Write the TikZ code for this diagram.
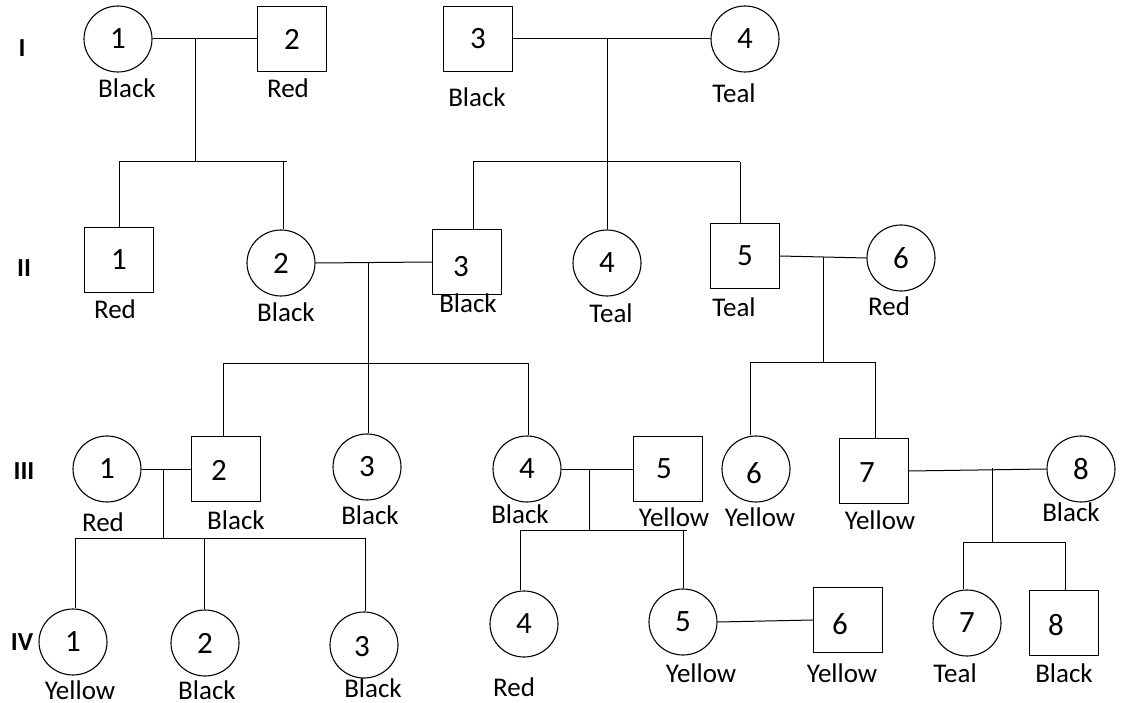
\documentclass[tikz,border=0pt]{standalone}
\usepackage{fontspec}
\setmainfont{Carlito}
\usetikzlibrary{shapes.geometric}
\begin{document}
\begin{tikzpicture}[x=1pt,y=-1pt,
  line width=1pt,
  fem/.style={ellipse, draw, line width=1.1pt, minimum width=68pt, minimum height=66pt, inner sep=0pt, font=\fontsize{31}{31}\selectfont},
  mal/.style={rectangle, draw, line width=1.1pt, minimum width=69pt, minimum height=65pt, inner sep=0pt, font=\fontsize{31}{31}\selectfont},
  num/.style={inner sep=0pt, font=\fontsize{31}{31}\selectfont},
  lab/.style={inner sep=0pt, font=\fontsize{27}{27}\selectfont},
  gen/.style={inner sep=0pt, font=\bfseries\fontsize{26}{26}\selectfont}]
\useasboundingbox[fill=white] (0,0) rectangle (1127,703);

% generation labels
\node[gen] (gI) at (22,48) {I};
\node[gen] (gII) at (24,268) {II};
\node[gen] (gIII) at (24,471) {III};
\node[gen] (gIV) at (22,642) {IV};

% Generation I
\node[fem] (I1) at (118,39) {1};
\node[mal] (I2) at (292,39) {2};
\node[mal] (I3) at (478,39) {3};
\node[fem] (I4) at (745,39) {4};
\node[lab] (lI1) at (127,88) {Black};
\node[lab] (lI2) at (288,88) {Red};
\node[lab] (lI3) at (477,97) {Black};
\node[lab] (lI4) at (734,93) {Teal};

% Generation II
\node[mal] (II1) at (119,260) {1};
\node[fem] (II2) at (281,263) {2};
\node[mal] (II3) at (467,262) {};
\node[num] (nII3) at (461,267) {3};
\node[fem] (II4) at (607,263) {4};
\node[mal] (II5) at (745,256) {5};
\node[fem] (II6) at (901,258) {6};
\node[lab] (lII1) at (115,309) {Red};
\node[lab] (lII2) at (286,312) {Black};
\node[lab] (lII3) at (468,303) {Black};
\node[lab] (lII4) at (611,313) {Teal};
\node[lab] (lII5) at (734,307) {Teal};
\node[lab] (lII6) at (889,306) {Red};

% Generation III
\node[fem] (III1) at (107,469) {1};
\node[mal] (III2) at (226,469) {};
\node[num] (nIII2) at (219,470) {2};
\node[fem] (III3) at (367,467) {3};
\node[fem] (III4) at (527,469) {4};
\node[mal] (III5) at (668,469) {};
\node[num] (nIII5) at (664,469) {5};
\node[fem] (III6) at (756,469) {};
\node[num] (nIII6) at (754,473) {6};
\node[mal] (III7) at (874,471) {};
\node[num] (nIII7) at (867,473) {7};
\node[fem] (III8) at (1081,469) {8};
\node[lab] (lIII1) at (103,522) {Red};
\node[lab] (lIII2) at (236,520) {Black};
\node[lab] (lIII3) at (370,515) {Black};
\node[lab] (lIII4) at (520,514) {Black};
\node[lab] (lIII5) at (674,517) {Yellow};
\node[lab] (lIII6) at (760,517) {Yellow};
\node[lab] (lIII7) at (880,520) {Yellow};
\node[lab] (lIII8) at (1071,512) {Black};

% Generation IV
\node[fem] (IV1) at (73,642) {1};
\node[fem] (IV2) at (205,643) {2};
\node[fem] (IV3) at (364,645) {};
\node[num] (nIV3) at (362,647) {3};
\node[fem] (IV4) at (524,624) {4};
\node[fem] (IV5) at (683,622) {5};
\node[mal] (IV6) at (848,620) {};
\node[num] (nIV6) at (840,624) {6};
\node[fem] (IV7) at (967,623) {7};
\node[mal] (IV8) at (1064,623) {};
\node[num] (nIV8) at (1056,625) {8};
\node[lab] (lIV1) at (80,690) {Yellow};
\node[lab] (lIV2) at (207,690) {Black};
\node[lab] (lIV3) at (373,688) {Black};
\node[lab] (lIV4) at (514,687) {Red};
\node[lab] (lIV5) at (701,673) {Yellow};
\node[lab] (lIV6) at (842,673) {Yellow};
\node[lab] (lIV7) at (955,673) {Teal};
\node[lab] (lIV8) at (1064,673) {Black};

% mating points and sibship lines
\coordinate (m1) at (195,39);  \coordinate (s1L) at (119,162); \coordinate (s1R) at (287,162); \coordinate (c1b) at (283,162);
\coordinate (m2) at (607,39);  \coordinate (s2L) at (473,162); \coordinate (s2R) at (740,162);
\coordinate (m3) at (368,262); \coordinate (s3L) at (223,363); \coordinate (s3R) at (528,363);
\coordinate (m4) at (823,257); \coordinate (s4L) at (750,362); \coordinate (s4R) at (875,362);
\coordinate (m5) at (163,469); \coordinate (s5L) at (75,538);  \coordinate (s5R) at (365,538); \coordinate (c5b) at (204,538);
\coordinate (m6) at (589,469); \coordinate (s6L) at (520,530); \coordinate (s6R) at (687,530); \coordinate (c6b) at (683,530);
\coordinate (m7) at (992,468); \coordinate (s7L) at (963,542); \coordinate (s7R) at (1065,542);

% marriages
\draw (I1.east) -- (I2.west);
\draw (I3.east) -- (I4.west);
\draw (II2.east) -- (II3.west);
\draw (II5.east) -- (II6.west);
\draw (III1.east) -- (III2.west);
\draw (III4.east) -- (III5.west);
\draw (III7.east) -- (III8.west);
\draw (IV5.east) -- (IV6.west);

% family 1
\draw (m1) -- (m1 |- s1L);
\draw (s1L) -- (s1R);
\draw (s1L) -- (s1L |- II1.north);
\draw (c1b) -- (c1b |- II2.north);
% family 2
\draw (m2) -- (m2 |- II4.north);
\draw (s2L) -- (s2R);
\draw (s2L) -- (s2L |- II3.north);
\draw (s2R) -- (s2R |- II5.north);
% family 3
\draw (m3) -- (m3 |- III3.north);
\draw (s3L) -- (s3R);
\draw (s3L) -- (s3L |- III2.north);
\draw (s3R) -- (s3R |- III4.north);
% family 4
\draw (m4) -- (m4 |- s4L);
\draw (s4L) -- (s4R);
\draw (s4L) -- (s4L |- III6.north);
\draw (s4R) -- (s4R |- III7.north);
% family 5
\draw (m5) -- (m5 |- s5L);
\draw (s5L) -- (s5R);
\draw (s5L) -- (s5L |- IV1.north);
\draw (c5b) -- (c5b |- IV2.north);
\draw (s5R) -- (s5R |- IV3.north);
% family 6
\draw (m6) -- (m6 |- s6L);
\draw (s6L) -- (s6R);
\draw (s6L) -- (s6L |- IV4.north);
\draw (c6b) -- (c6b |- IV5.north);
% family 7
\draw (m7) -- (m7 |- s7L);
\draw (s7L) -- (s7R);
\draw (s7L) -- (s7L |- IV7.north);
\draw (s7R) -- (s7R |- IV8.north);
\end{tikzpicture}
\end{document}
